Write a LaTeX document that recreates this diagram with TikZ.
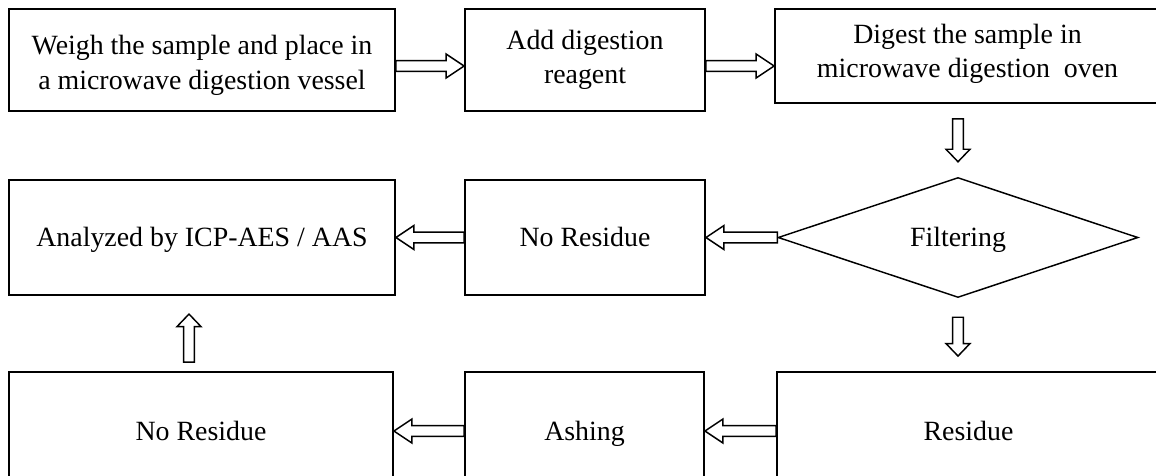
\documentclass[tikz,border=0pt]{standalone}
\usepackage{fontspec}
\setmainfont{Liberation Serif}
\usetikzlibrary{arrows,positioning}
\usetikzlibrary{shapes.geometric,calc}

% hollow block arrow: head length, from, to
\newcommand{\blockarrow}[3]{%
  \coordinate (hb) at ($(#3)!#1!(#2)$);
  \draw[hollow] ($(#2)!4.1pt!90:(#3)$) -- ($(hb)!4.1pt!90:(#3)$) -- ($(hb)!9pt!90:(#3)$) -- (#3)
    -- ($(hb)!9pt!-90:(#3)$) -- ($(hb)!4.1pt!-90:(#3)$) -- ($(#2)!4.1pt!-90:(#3)$) -- cycle;
}

\begin{document}
\begin{tikzpicture}[x=0.75pt,y=0.75pt,yscale=-1,xscale=1,
    stage/.style={draw, line width=1.4pt, align=center, inner sep=0pt,
      font=\fontsize{20.9}{26}\selectfont},
    oneline/.style={text height=13.8pt, text depth=0pt},
    decision/.style={draw, diamond, line width=1.1pt, inner sep=0pt,
      font=\fontsize{20.9}{26}\selectfont},
    hollow/.style={draw, fill=white, line width=1.1pt, line join=miter}]
		\useasboundingbox (0,0) rectangle (1156,475);
		
		% Top row
		\node [stage, minimum width=289.5pt, minimum height=76.5pt] (weigh) at (202,60) {\rule{0pt}{23pt}Weigh the sample and place in\\a microwave digestion vessel};
		\node [stage, minimum width=180pt, minimum height=76.5pt] (reagent) at (585,60) {Add digestion\\reagent};
		\node [stage, minimum width=288.75pt, minimum height=70.5pt] (digest) at (967.5,56) {Digest the sample in\\microwave digestion\ \ oven\rule[-8pt]{0pt}{8pt}};
		
		% Middle row
		\node [decision, oneline, minimum width=270pt, minimum height=90pt] (filter) at (958,237.5) {Filtering};
		\node [stage, oneline, minimum width=180pt, minimum height=86.25pt] (nores) at (585,237.5) {No Residue};
		\node [stage, oneline, minimum width=289.5pt, minimum height=86.25pt] (analyze) at (202,237.5) {Analyzed by ICP-AES / AAS};
		
		% Bottom row
		\node [stage, oneline, minimum width=287.25pt, minimum height=88.5pt] (residue) at (968.5,431) {Residue};
		\node [stage, oneline, minimum width=179.25pt, minimum height=88.5pt] (ashing) at (584.5,431) {Ashing};
		\node [stage, oneline, minimum width=288pt, minimum height=88.5pt] (nores2) at (201,431) {No Residue};
		
		% free ends of the arrows
		\coordinate (wout) at ($(weigh.east)+(0,6)$);
		\coordinate (rout) at ($(reagent.east)+(0,6)$);
		\coordinate (digbot) at ($(filter.north)+(0,-58)$);
		\coordinate (filtop) at ($(filter.north)+(0,-15)$);
		\coordinate (filbot) at ($(filter.south)+(0,19)$);
		\coordinate (restop) at ($(residue.north -| filter.south)+(0,-15)$);
		\coordinate (notop) at ($(nores2.north)+(-12,-9)$);
		\coordinate (anbot) at ($(nores2.north)+(-12,-57)$);
		
		% Arrows
		\blockarrow{13.5pt}{wout}{reagent.west |- wout}
		\blockarrow{13.5pt}{rout}{digest.west |- rout}
		\blockarrow{9.4pt}{digbot}{filtop}
		\blockarrow{13.5pt}{filter.west}{nores.east}
		\blockarrow{13.5pt}{nores.west}{analyze.east}
		\blockarrow{9.4pt}{filbot}{restop}
		\blockarrow{13.5pt}{residue.west}{ashing.east}
		\blockarrow{13.5pt}{ashing.west}{nores2.east}
		\blockarrow{9.4pt}{notop}{anbot}
		
\end{tikzpicture}
\end{document}
